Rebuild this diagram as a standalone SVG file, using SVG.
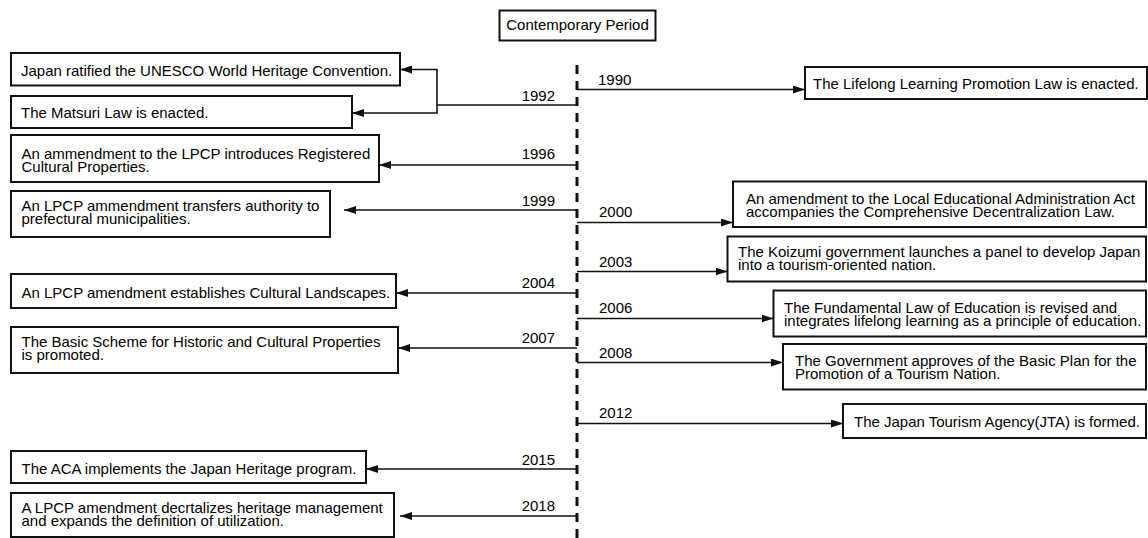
<svg xmlns="http://www.w3.org/2000/svg" width="1148" height="538" viewBox="0 0 1148 538">
<style>
.box{fill:#fff;stroke:#111;stroke-width:2}
.t{font-family:"Liberation Sans",Arial,sans-serif;font-size:15px;fill:#000}
.e{text-anchor:end}
.c{text-anchor:middle}
.ln{fill:none;stroke:#111;stroke-width:1.6}
.arr{marker-end:url(#ah)}
.tl{fill:none;stroke:#111;stroke-width:3;stroke-dasharray:9 7}
</style>
<defs>
<marker id="ah" markerWidth="12" markerHeight="8" refX="12" refY="4" orient="auto" markerUnits="userSpaceOnUse"><path d="M0,0 L12,4 L0,8 z" fill="#111"/></marker>
</defs>
<rect width="1148" height="538" fill="#fff"/>

<g id="title">
<rect class="box" x="499.5" y="10.5" width="156" height="30"/>
<text class="t c" transform="translate(577.5,29.5) scale(1,.96)">Contemporary Period</text>
</g>

<g id="connectors">
<line class="tl" x1="577" y1="65" x2="577" y2="538"/>
<path class="ln arr" d="M577,105 H437 V69.5 H400"/>
<path class="ln arr" d="M437,105 V113 H352"/>
<path class="ln arr" d="M577,165 H379"/>
<path class="ln arr" d="M577,210 H344"/>
<path class="ln arr" d="M577,293 H396"/>
<path class="ln arr" d="M577,348 H398"/>
<path class="ln arr" d="M577,469 H366"/>
<path class="ln arr" d="M577,516 H400"/>
<path class="ln arr" d="M577,89.5 H805"/>
<path class="ln arr" d="M577,222.5 H733"/>
<path class="ln arr" d="M577,271.5 H727.5"/>
<path class="ln arr" d="M577,318.5 H773.5"/>
<path class="ln arr" d="M577,362.5 H783"/>
<path class="ln arr" d="M577,423.5 H843"/>
<text class="t e" transform="translate(555,101) scale(1,.96)">1992</text>
<text class="t e" transform="translate(555,159) scale(1,.96)">1996</text>
<text class="t e" transform="translate(555,205.5) scale(1,.96)">1999</text>
<text class="t e" transform="translate(555,287.5) scale(1,.96)">2004</text>
<text class="t e" transform="translate(555,343) scale(1,.96)">2007</text>
<text class="t e" transform="translate(555,465) scale(1,.96)">2015</text>
<text class="t e" transform="translate(555,511) scale(1,.96)">2018</text>
<text class="t" transform="translate(598,85) scale(1,.96)">1990</text>
<text class="t" transform="translate(599,216.5) scale(1,.96)">2000</text>
<text class="t" transform="translate(599,266.5) scale(1,.96)">2003</text>
<text class="t" transform="translate(599,313) scale(1,.96)">2006</text>
<text class="t" transform="translate(599,358) scale(1,.96)">2008</text>
<text class="t" transform="translate(599,418) scale(1,.96)">2012</text>
</g>

<g id="n-unesco">
<rect class="box" x="11" y="53" width="389" height="32.5"/>
<text class="t" transform="translate(21,76) scale(1,.96)">Japan ratified the UNESCO World Heritage Convention.</text>
</g>
<g id="n-matsuri">
<rect class="box" x="11" y="96" width="341" height="32"/>
<text class="t" transform="translate(21,117.5) scale(1,.96)">The Matsuri Law is enacted.</text>
</g>
<g id="n-1996">
<rect class="box" x="11" y="135" width="368" height="47"/>
<text class="t" transform="translate(21.5,159) scale(1,.96)"><tspan x="0" y="0">An ammendment to the LPCP introduces Registered</tspan><tspan x="0" y="14">Cultural Properties.</tspan></text>
</g>
<g id="n-1999">
<rect class="box" x="11" y="191" width="319" height="46"/>
<text class="t" transform="translate(21.5,211) scale(1,.96)"><tspan x="0" y="0">An LPCP ammendment transfers authority to</tspan><tspan x="0" y="14">prefectural municipalities.</tspan></text>
</g>
<g id="n-2004">
<rect class="box" x="11" y="274" width="385" height="34"/>
<text class="t" transform="translate(21.5,298) scale(1,.96)">An LPCP amendment establishes Cultural Landscapes.</text>
</g>
<g id="n-2007">
<rect class="box" x="11" y="327" width="387" height="46"/>
<text class="t" transform="translate(21.5,346.5) scale(1,.96)"><tspan x="0" y="0">The Basic Scheme for Historic and Cultural Properties</tspan><tspan x="0" y="14">is promoted.</tspan></text>
</g>
<g id="n-2015">
<rect class="box" x="11" y="451" width="355" height="32"/>
<text class="t" transform="translate(21.5,474) scale(1,.96)">The ACA implements the Japan Heritage program.</text>
</g>
<g id="n-2018">
<rect class="box" x="11" y="493" width="383" height="44"/>
<text class="t" transform="translate(21.5,513) scale(1,.96)"><tspan x="0" y="0">A LPCP amendment decrtalizes heritage management</tspan><tspan x="0" y="14">and expands the definition of utilization.</tspan></text>
</g>

<g id="n-1990">
<rect class="box" x="805" y="67" width="342" height="32"/>
<text class="t" transform="translate(813,88.5) scale(1,.96)">The Lifelong Learning Promotion Law is enacted.</text>
</g>
<g id="n-2000">
<rect class="box" x="733" y="181.5" width="413" height="45.5"/>
<text class="t" transform="translate(746,204) scale(1,.96)"><tspan x="0" y="0">An amendment to the Local Educational Administration Act</tspan><tspan x="0" y="14">accompanies the Comprehensive Decentralization Law.</tspan></text>
</g>
<g id="n-2003">
<rect class="box" x="727.5" y="236.5" width="418.5" height="45"/>
<text class="t" transform="translate(738,257) scale(1,.96)"><tspan x="0" y="0">The Koizumi government launches a panel to develop Japan</tspan><tspan x="0" y="14">into a tourism-oriented nation.</tspan></text>
</g>
<g id="n-2006">
<rect class="box" x="773.5" y="290.5" width="372.5" height="46"/>
<text class="t" transform="translate(784,313) scale(1,.96)"><tspan x="0" y="0">The Fundamental Law of Education is revised and</tspan><tspan x="0" y="14">integrates lifelong learning as a principle of education.</tspan></text>
</g>
<g id="n-2008">
<rect class="box" x="783" y="344" width="363" height="45.5"/>
<text class="t" transform="translate(795,365.5) scale(1,.96)"><tspan x="0" y="0">The Government approves of the Basic Plan for the</tspan><tspan x="0" y="14">Promotion of a Tourism Nation.</tspan></text>
</g>
<g id="n-2012">
<rect class="box" x="843" y="404" width="303" height="34"/>
<text class="t" transform="translate(854,427) scale(1,.96)">The Japan Tourism Agency(JTA) is formed.</text>
</g>
</svg>
